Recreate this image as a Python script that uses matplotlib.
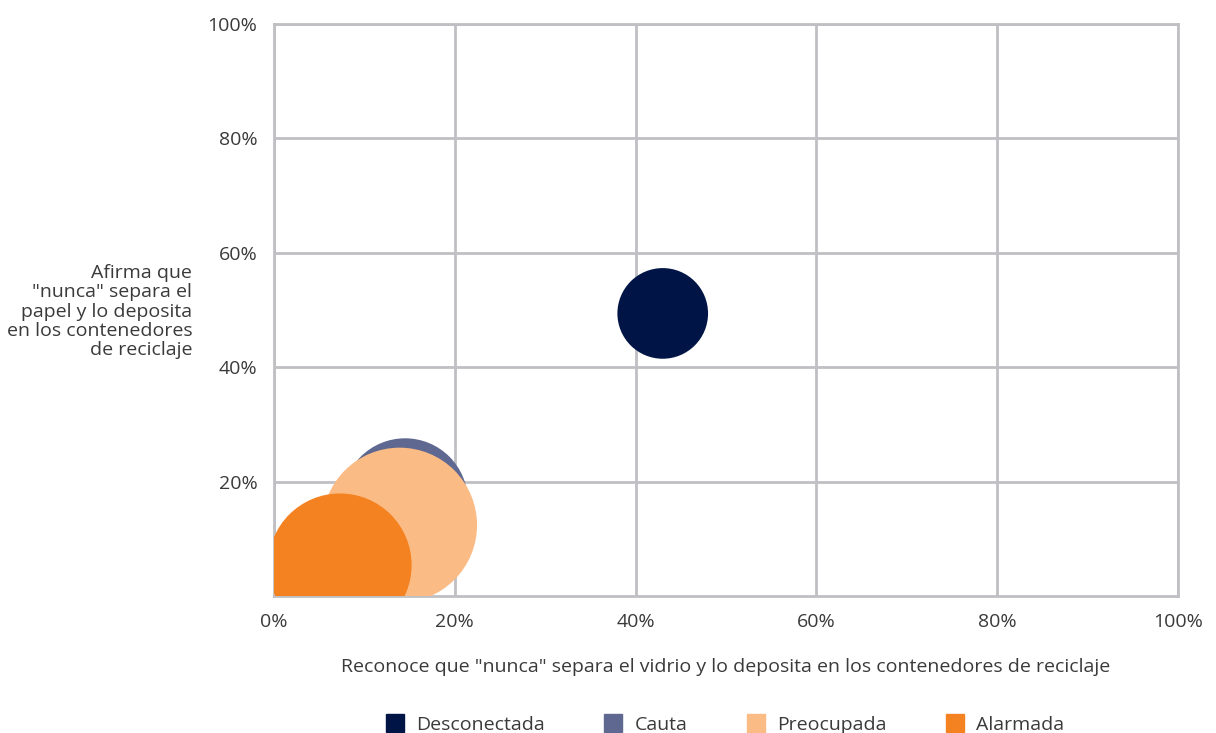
import matplotlib.pyplot as plt
from matplotlib.lines import Line2D
from matplotlib.ticker import PercentFormatter

plt.rcParams['font.family'] = ['Open Sans', 'DejaVu Sans']

# data: share "never separates glass" (x), "never separates paper" (y), segment weight (bubble)
segments = ['Desconectada', 'Cauta', 'Preocupada', 'Alarmada']
vidrio = [0.430, 0.145, 0.139, 0.073]
papel = [0.494, 0.166, 0.124, 0.054]
peso = [12, 23, 35, 30]
colors = ['#001446', '#5f6890', '#fbbb85', '#f58220']

fig = plt.figure(figsize=(12.16, 7.33), dpi=100)
ax = fig.add_axes([0.2253, 0.1869, 0.7435, 0.7804])

for s, x, y, w, c in zip(segments, vidrio, papel, peso, colors):
    ax.scatter(x, y, s=w * 355, color=c, edgecolors='none', zorder=3, label=s)

ax.set_xlim(0, 1)
ax.set_ylim(0, 1)
ax.set_xticks([0, 0.2, 0.4, 0.6, 0.8, 1.0])
ax.set_yticks([0.2, 0.4, 0.6, 0.8, 1.0])
ax.xaxis.set_major_formatter(PercentFormatter(1.0, decimals=0))
ax.yaxis.set_major_formatter(PercentFormatter(1.0, decimals=0))
ax.grid(True, color='#c0c0c4', linewidth=2)
ax.set_axisbelow(True)
for sp in ax.spines.values():
    sp.set_color('#c0c0c4')
    sp.set_linewidth(2)
ax.tick_params(length=0, labelsize=14, labelcolor='#3a3a3a', pad=12)

ax.set_xlabel('Reconoce que "nunca" separa el vidrio y lo deposita en los contenedores de reciclaje',
              fontsize=14, color='#3a3a3a', labelpad=20)
fig.text(0.158, 0.575, 'Afirma que\n"nunca" separa el\npapel y lo deposita\nen los contenedores\nde reciclaje',
         ha='right', va='center', fontsize=14, color='#3a3a3a', linespacing=1.1)

handles = [Line2D([], [], marker='s', linestyle='none', markersize=13, color=c) for c in colors]
fig.legend(handles, segments, loc='lower center', bbox_to_anchor=(0.596, -0.025), ncol=4,
           frameon=False, fontsize=14, columnspacing=3.0, handlelength=1.0, handletextpad=0.6,
           labelcolor='#3a3a3a')

fig.savefig('out.png', dpi=100)
